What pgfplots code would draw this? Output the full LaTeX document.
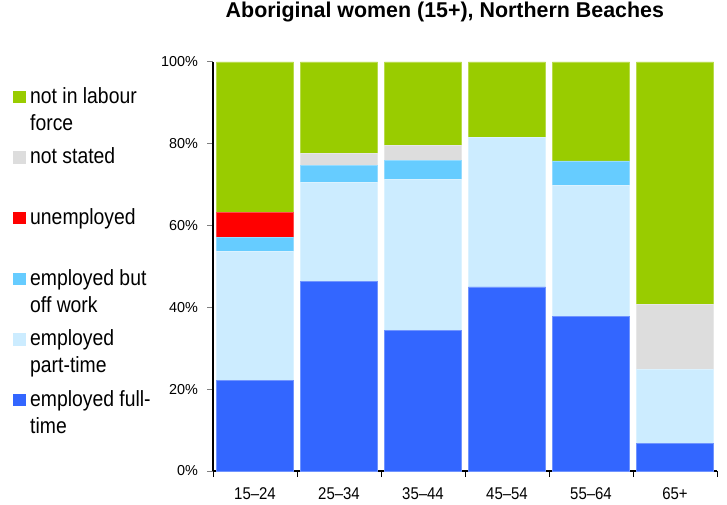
\documentclass[border=0pt]{standalone}
\usepackage{fontspec}
\setmainfont{Liberation Sans}
\newfontfamily\cond{Liberation Sans}[FakeStretch=0.88]
\usepackage{pgfplots}
\pgfplotsset{compat=1.18}
\definecolor{cNILF}{HTML}{99CC00}
\definecolor{cNS}{HTML}{DDDDDD}
\definecolor{cUN}{HTML}{FF0000}
\definecolor{cOFF}{HTML}{66CCFF}
\definecolor{cPT}{HTML}{CCECFF}
\definecolor{cFT}{HTML}{3366FF}
\newcommand{\lentry}[1]{\parbox[t]{80pt}{\cond\fontsize{11pt}{13.5pt}\selectfont #1}}
\begin{document}
\begin{tikzpicture}
\path[use as bounding box] (0,0) rectangle (363.5pt,252pt);
\begin{axis}[
  at={(106.5pt,16.5pt)}, anchor=south west,
  scale only axis, width=252pt, height=204.5pt,
  ybar stacked, bar width=0.917,
  xmin=-0.5, xmax=5.5, ymin=0, ymax=100,
  axis x line*=bottom, axis y line*=left,
  axis line style={line width=0.6pt},
  xtick={0,...,5},
  xticklabels={15\textendash24,25\textendash34,35\textendash44,45\textendash54,55\textendash64,65+},
  major x tick style={draw=none},
  minor xtick={-0.5,0.5,1.5,2.5,3.5,4.5,5.5},
  minor x tick style={draw=black, line width=0.5pt},
  minor tick length=3pt, major tick length=3pt,
  tick align=outside,
  ytick={0,20,...,100},
  yticklabel={\pgfmathprintnumber{\tick}\%},
  /pgf/number format/assume math mode=true,
  yticklabel style={font=\fontsize{7.2pt}{8pt}\selectfont, xshift=-1pt},
  xticklabel style={font=\cond\fontsize{8.5pt}{9pt}\selectfont, yshift=-2pt},
  y tick style={line width=0.5pt},
  title={\textbf{Aboriginal women (15+), Northern Beaches}},
  title style={font=\fontsize{10.7pt}{12pt}\selectfont, at={(0.46,1)}, anchor=base, yshift=16pt},
  reverse legend,
  legend style={at={(-0.398,0.944)}, anchor=north west, draw=none, fill=none,
    inner sep=0pt, row sep=0pt,
    cells={anchor=base west},
    nodes={inner sep=0pt, outer sep=0pt, text height=9pt, text depth=21.3pt}},
  legend image code/.code={\fill[#1, draw=none] (0pt,6.2pt) rectangle (6.5pt,12.4pt); \path (8.5pt,6.2pt);},
  legend cell align=left,
]
\addplot[fill=cFT, draw=cFT!70!white, line width=0.4pt] coordinates {(0,22.2) (1,46.3) (2,34.3) (3,45.0) (4,37.7) (5,6.7)};
\addplot[fill=cPT, draw=cPT!70!white, line width=0.4pt] coordinates {(0,31.4) (1,24.3) (2,37.0) (3,36.6) (4,32.2) (5,18.2)};
\addplot[fill=cOFF, draw=cOFF!70!white, line width=0.4pt] coordinates {(0,3.6) (1,4.0) (2,4.7) (3,0) (4,5.9) (5,0)};
\addplot[fill=cUN, draw=cUN!70!white, line width=0.4pt] coordinates {(0,6.1) (1,0) (2,0) (3,0) (4,0) (5,0)};
\addplot[fill=cNS, draw=cNS!70!white, line width=0.4pt] coordinates {(0,0) (1,3.1) (2,3.6) (3,0) (4,0) (5,15.9)};
\addplot[fill=cNILF, draw=cNILF!70!white, line width=0.4pt] coordinates {(0,36.7) (1,22.3) (2,20.4) (3,18.4) (4,24.2) (5,59.2)};
\legend{\lentry{employed full-\\time},\lentry{employed\\part-time},\lentry{employed but\\off work},\lentry{unemployed},\lentry{not stated},\lentry{not in labour\\force}}
\end{axis}
\end{tikzpicture}
\end{document}
